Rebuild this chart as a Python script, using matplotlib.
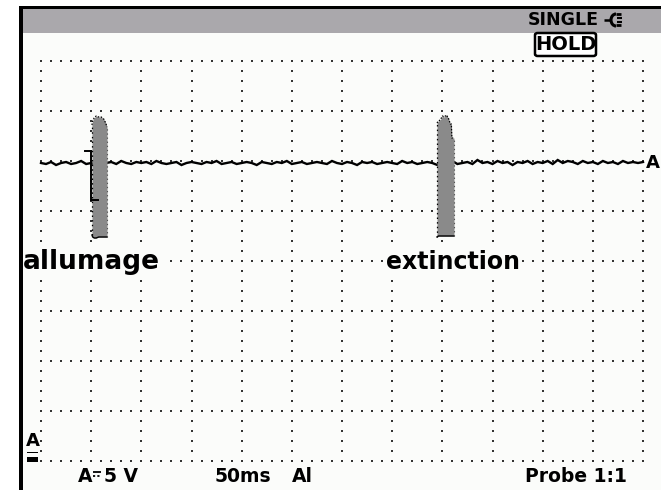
import numpy as np
import matplotlib
matplotlib.use("Agg")
import matplotlib.pyplot as plt
from matplotlib.patches import Rectangle, FancyBboxPatch, Arc
from matplotlib.lines import Line2D

# ---------------- data (time in ms, level in V) ----------------
time_div_ms = 50          # 50 ms / div, 12 divisions
volt_div = 5              # 5 V / div, 8 divisions
n_xdiv, n_ydiv = 12, 8

trace_level = 29.8
trace_t = np.arange(0, 605, 5)
trace_noise = [
    0.0, -0.1, 0.1, -0.2, 0.0, 0.1, -0.1, 0.0, 0.2, -0.1,
    0.0, -0.2, 0.1, 0.0, 0.1, -0.1, 0.2, 0.0, -0.1, 0.1,
    0.0, 0.1, -0.1, 0.2, 0.0, -0.1, 0.0, 0.1, -0.2, 0.0,
    0.1, 0.0, -0.1, 0.1, 0.0, 0.2, -0.1, 0.0, 0.1, -0.1,
    0.0, 0.1, 0.0, -0.2, 0.1, 0.0, -0.1, 0.1, 0.0, 0.2,
    -0.1, 0.0, 0.1, -0.1, 0.0, 0.1, 0.0, -0.1, 0.2, 0.0,
    -0.1, 0.1, 0.0, -0.2, 0.1, 0.0, 0.1, -0.1, 0.0, 0.1,
    0.0, -0.1, 0.2, 0.0, 0.1, -0.1, 0.0, 0.1, 0.0, -0.2,
    0.1, 0.0, 0.2, -0.1, 0.0, 0.1, -0.1, 0.3, 0.0, 0.1,
    -0.1, 0.2, 0.0, 0.1, -0.2, 0.1, 0.0, 0.2, -0.1, 0.1,
    0.0, 0.2, -0.1, 0.3, 0.0, 0.2, 0.1, -0.1, 0.2, 0.0,
    0.1, -0.1, 0.2, 0.0, 0.1, -0.1, 0.2, 0.0, 0.1, 0.0,
    0.1,
]

# ignition burst ("allumage")
p1_t = [50.8, 51.5, 53.0, 55.0, 57.5, 60.0, 62.5, 64.5, 65.8]
p1_top = [33.6, 34.0, 34.3, 34.5, 34.4, 34.4, 34.2, 33.8, 33.4]
p1_bot = [22.6, 22.4, 22.3, 22.3, 22.4, 22.4, 22.4, 22.4, 22.4]
# extinction burst
p2_t = [394.7, 396.0, 398.0, 400.0, 402.0, 404.0, 406.0, 408.0, 409.0, 409.5, 411.6]
p2_top = [33.8, 34.0, 34.1, 34.5, 34.4, 34.6, 34.3, 33.7, 33.7, 32.3, 32.3]
p2_bot = [22.4, 22.5, 22.5, 22.5, 22.5, 22.5, 22.5, 22.5, 22.5, 22.5, 22.5]

# bracket marker at the first burst
br_t = [43.9, 49.8, 49.8, 56.8]
br_v = [31.0, 31.0, 26.1, 26.1]

labels = ["allumage", "extinction"]
label_t = [-18.5, 343.5]
label_v = [19.9, 19.9]
label_size = [19, 17]

status_top = "SINGLE"
status_hold = "HOLD"
bottom_texts = ["A", "5 V", "50ms", "Al", "Probe 1:1"]

# ---------------- figure ----------------
W, H = 661, 490
bg = "#fbfcfa"
fig = plt.figure(figsize=(W / 100, H / 100), dpi=100)
fig.patch.set_facecolor("white")

def fx(px):
    return px / W

def fy(py):
    return 1 - py / H

def fig_line(xs, ys, lw=1.6, **kw):
    fig.add_artist(Line2D([fx(x) for x in xs], [fy(y) for y in ys], transform=fig.transFigure,
                          color="black", lw=lw, zorder=6, solid_capstyle="butt", **kw))

# screen background and frame
fig.add_artist(Rectangle((fx(19), 0), 1 - fx(19), fy(6), transform=fig.transFigure,
                         facecolor=bg, edgecolor="none", zorder=0))
fig.add_artist(Rectangle((fx(22), fy(33)), 1 - fx(22), fy(9) - fy(33), transform=fig.transFigure,
                         facecolor="#aaa8ac", edgecolor="none", zorder=1))
fig.add_artist(Rectangle((fx(19), fy(9)), 1 - fx(19), fy(6) - fy(9), transform=fig.transFigure,
                         facecolor="black", edgecolor="none", zorder=2))
fig.add_artist(Rectangle((fx(19), 0), fx(23) - fx(19), fy(6), transform=fig.transFigure,
                         facecolor="black", edgecolor="none", zorder=2))

font = "DejaVu Sans"
fig.text(fx(528), fy(20), status_top, fontsize=12.5, fontweight="bold", family=font,
         ha="left", va="center", color="black", zorder=5)
# plug icon (drawn)
fig_line([604, 611], [20, 20], lw=1.8)
fig.add_artist(Arc((fx(616), fy(20)), fx(10) - fx(0), fy(0) - fy(12), theta1=90, theta2=270,
                   transform=fig.transFigure, color="black", lw=2.2, zorder=6))
fig_line([616, 621], [14.5, 14.5], lw=2.0)
fig_line([616, 621], [25.5, 25.5], lw=2.0)
fig_line([617, 622], [18, 18], lw=1.5)
fig_line([617, 622], [22, 22], lw=1.5)

fig.add_artist(FancyBboxPatch((fx(535), fy(56)), fx(596) - fx(535), fy(33) - fy(56),
                              boxstyle="round,pad=0,rounding_size=0.004",
                              transform=fig.transFigure, facecolor="white",
                              edgecolor="black", linewidth=1.8, zorder=4))
fig.text(fx(565.5), fy(44.5), status_hold, fontsize=14, fontweight="bold", family=font,
         ha="center", va="center", color="black", zorder=5)

# ---------------- scope axes ----------------
ax = fig.add_axes([fx(41), 29 / H, 602 / W, 400 / H])
ax.set_xlim(0, n_xdiv * time_div_ms)
ax.set_ylim(0, n_ydiv * volt_div)
ax.axis("off")
ax.patch.set_alpha(0)

# dotted graticule: dots every 1/5 division along each major line
dot_kw = dict(linestyle="none", marker="s", markersize=1.45, markeredgewidth=0,
              color="#333333", zorder=1)
xs_minor = np.linspace(0, n_xdiv * time_div_ms, n_xdiv * 5 + 1)
ys_minor = np.linspace(0, n_ydiv * volt_div, n_ydiv * 5 + 1)
for k in range(n_ydiv + 1):
    ax.plot(xs_minor, np.full_like(xs_minor, k * volt_div), clip_on=False, **dot_kw)
for k in range(n_xdiv + 1):
    ax.plot(np.full_like(ys_minor, k * time_div_ms), ys_minor, clip_on=False, **dot_kw)

# trace
ax.plot(trace_t, trace_level + np.array(trace_noise), color="black", lw=1.7,
        zorder=3, clip_on=False, solid_joinstyle="miter")

# bursts
for t, top, bot in [(p1_t, p1_top, p1_bot), (p2_t, p2_top, p2_bot)]:
    ax.fill_between(t, bot, top, color="#8a8a8a", zorder=4, linewidth=0)
    ax.plot(t, top, color="black", lw=0.9, ls=(0, (1.2, 1.2)), zorder=5)
    ax.plot(t, bot, color="black", lw=1.0, zorder=5)
    ax.plot([t[0], t[0]], [bot[0], top[0]], color="black", lw=0.9, ls=(0, (1.2, 2.5)), zorder=5)
    ax.plot([t[-1], t[-1]], [bot[-1], top[-1]], color="#555555", lw=0.8, ls=(0, (1.2, 2.5)), zorder=5)

ax.plot(br_t, br_v, color="black", lw=1.4, zorder=6, solid_joinstyle="miter")

for s, t, v, fs in zip(labels, label_t, label_v, label_size):
    ax.text(t, v, s, fontsize=fs, fontweight="bold", family=font, ha="left", va="center",
            color="black", zorder=7, clip_on=False,
            bbox=dict(facecolor=bg, edgecolor="none", pad=1.5))

# channel marker at right end of trace
ax.text(603, trace_level, "A", fontsize=13, fontweight="bold", family=font,
        ha="left", va="center", color="black", clip_on=False, zorder=6)

# ground marker on the left
fig.text(fx(33), fy(441), "A", fontsize=13, fontweight="bold", family=font,
         ha="center", va="center", color="black", zorder=5)
fig.add_artist(Rectangle((fx(27), fy(453)), fx(38) - fx(27), fy(451.5) - fy(453),
                         transform=fig.transFigure, facecolor="black", zorder=5))
fig.add_artist(Rectangle((fx(27), fy(462)), fx(38) - fx(27), fy(457) - fy(462),
                         transform=fig.transFigure, facecolor="black", zorder=5))

# bottom status line
bt_x = [78, 104, 215, 292, 525]
for s, x in zip(bottom_texts, bt_x):
    fig.text(fx(x), fy(476), s, fontsize=13.5, fontweight="bold",
             family=font, ha="left", va="center", color="black", zorder=5)
# DC symbol between "A" and "5 V"
fig_line([93, 101], [472, 472], lw=1.3)
fig_line([93, 101], [476, 476], lw=1.3, ls=(0, (1.2, 1.2)))

fig.savefig("out.png", dpi=100, facecolor="white")
